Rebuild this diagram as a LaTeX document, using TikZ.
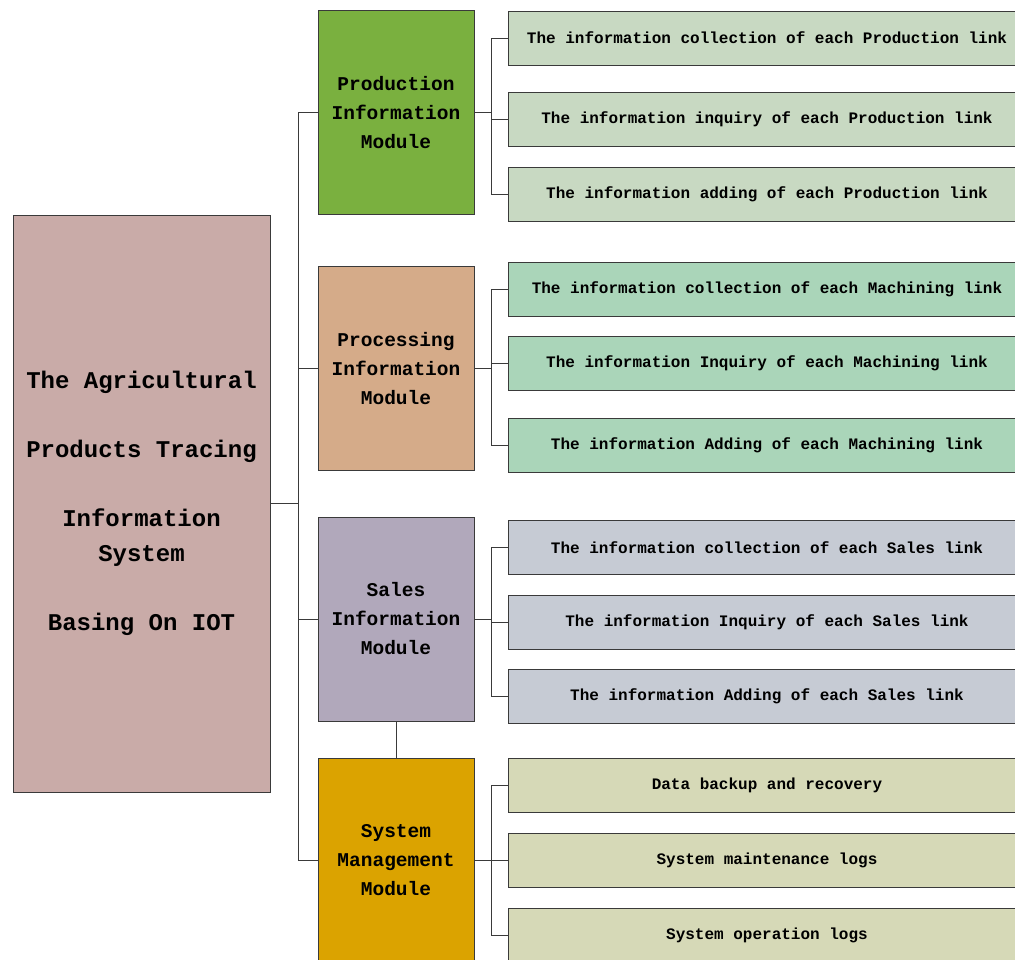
\documentclass[tikz,border=0pt]{standalone}
\usepackage{fontspec}
\newfontfamily\diagfont{Liberation Mono}
\definecolor{mainc}{HTML}{C9ABA8}
\definecolor{prodc}{HTML}{7AB03F}
\definecolor{procc}{HTML}{D5AB89}
\definecolor{salec}{HTML}{B1A8BB}
\definecolor{sysc}{HTML}{DBA300}
\definecolor{leafp}{HTML}{C8D9C2}
\definecolor{leafm}{HTML}{AAD5B9}
\definecolor{leafs}{HTML}{C6CBD4}
\definecolor{leafy}{HTML}{D6D9B7}
\definecolor{edgec}{HTML}{3A3A3A}
\tikzset{
  box/.style={draw=edgec, line width=1pt, rectangle, inner sep=0pt, align=center},
  mainbox/.style={box, fill=mainc, minimum width=257pt, minimum height=577pt,
     font=\diagfont\bfseries\fontsize{24}{35}\selectfont},
  modbox/.style={box, minimum width=156pt, minimum height=204pt,
     font=\diagfont\bfseries\fontsize{19.5}{29}\selectfont},
  leafbox/.style={box, minimum width=518pt, minimum height=54pt,
     font=\diagfont\bfseries\fontsize{16}{18}\selectfont},
  conn/.style={draw=edgec, line width=1pt}
}
\begin{document}
\begin{tikzpicture}[x=1pt,y=-1pt]
\useasboundingbox (0,0) rectangle (1015,959);
\clip (0,0) rectangle (1015,959);
% main
\node[mainbox] (main) at (141.5,503.5) {The Agricultural\\[34pt]Products Tracing\\[34pt]Information\\System\\[34pt]Basing On IOT};
% modules
\node[modbox, fill=prodc] (mprod) at (396,112.5) {Production\\Information\\Module};
\node[modbox, fill=procc] (mproc) at (396,368.5) {Processing\\Information\\Module};
\node[modbox, fill=salec] (msale) at (396,619) {Sales\\Information\\Module};
\node[modbox, fill=sysc] (msys) at (396,860) {System\\Management\\Module};
% leaves
\node[leafbox, fill=leafp] (p1) at (767,38) {The information collection of each Production link};
\node[leafbox, fill=leafp] (p2) at (767,119.5) {The information inquiry of each Production link};
\node[leafbox, fill=leafp] (p3) at (767,194.5) {The information adding of each Production link};
\node[leafbox, fill=leafm] (m1) at (767,289.5) {The information collection of each Machining link};
\node[leafbox, fill=leafm] (m2) at (767,363.5) {The information Inquiry of each Machining link};
\node[leafbox, fill=leafm] (m3) at (767,445) {The information Adding of each Machining link};
\node[leafbox, fill=leafs] (s1) at (767,547.5) {The information collection of each Sales link};
\node[leafbox, fill=leafs] (s2) at (767,622.5) {The information Inquiry of each Sales link};
\node[leafbox, fill=leafs] (s3) at (767,696.5) {The information Adding of each Sales link};
\node[leafbox, fill=leafy] (y1) at (767,785) {Data backup and recovery};
\node[leafbox, fill=leafy] (y2) at (767,860) {System maintenance logs};
\node[leafbox, fill=leafy] (y3) at (767,935) {System operation logs};
% connectors main -> modules
\foreach \m in {mprod,mproc,msale,msys}
  \draw[conn] (main.east) -- ++(28,0) |- (\m.west);
% module -> leaves
\foreach \m/\a/\b/\c in {mprod/p1/p2/p3, mproc/m1/m2/m3, msale/s1/s2/s3, msys/y1/y2/y3}{
  \draw[conn] (\m.east) -- ++(17,0) |- (\a.west);
  \draw[conn] (\m.east) -- ++(17,0) |- (\b.west);
  \draw[conn] (\m.east) -- ++(17,0) |- (\c.west);
}
\draw[conn] (msale.south) -- (msys.north);
\end{tikzpicture}
\end{document}
